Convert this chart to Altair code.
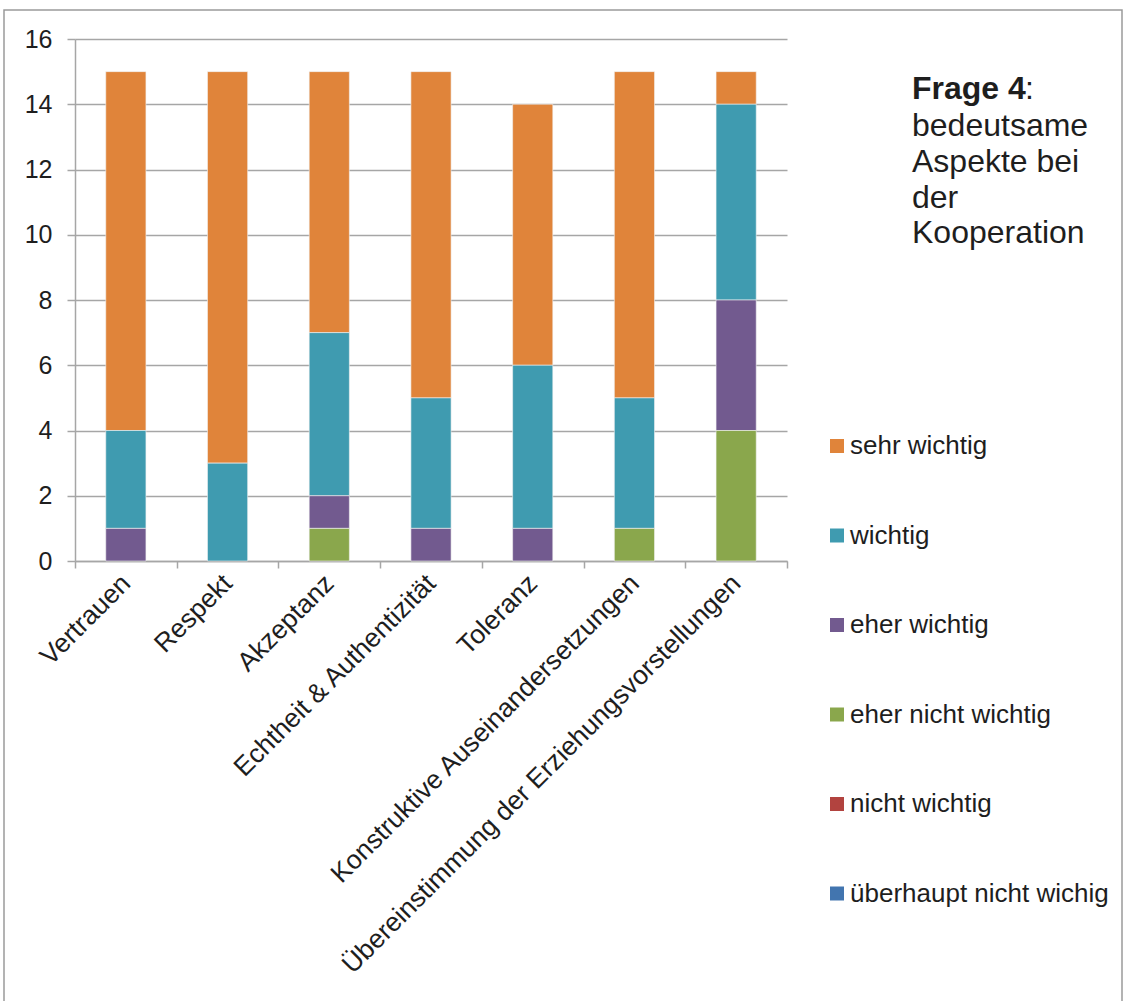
import altair as alt
import pandas as pd

categories = [
    "Vertrauen",
    "Respekt",
    "Akzeptanz",
    "Echtheit & Authentizität",
    "Toleranz",
    "Konstruktive Auseinandersetzungen",
    "Übereinstimmung der Erziehungsvorstellungen",
]
levels = [
    "sehr wichtig",
    "wichtig",
    "eher wichtig",
    "eher nicht wichtig",
    "nicht wichtig",
    "überhaupt nicht wichig",
]
colors = ["#E0843A", "#3F9BB0", "#725A8F", "#8AA74C", "#B2433F", "#4275AF"]

sehr_wichtig = [11, 12, 8, 10, 8, 10, 1]
wichtig = [3, 3, 5, 4, 5, 4, 6]
eher_wichtig = [1, 0, 1, 1, 1, 0, 4]
eher_nicht_wichtig = [0, 0, 1, 0, 0, 1, 4]
nicht_wichtig = [0, 0, 0, 0, 0, 0, 0]
ueberhaupt_nicht = [0, 0, 0, 0, 0, 0, 0]

series = [sehr_wichtig, wichtig, eher_wichtig, eher_nicht_wichtig, nicht_wichtig, ueberhaupt_nicht]
y_ticks = [0, 2, 4, 6, 8, 10, 12, 14, 16]

title_bold = "Frage 4"
title_rest = ["bedeutsame", "Aspekte bei", "der", "Kooperation"]

rows = []
for i, (lvl, vals) in enumerate(zip(levels, series)):
    for c, v in zip(categories, vals):
        rows.append({"Aspekt": c, "Bewertung": lvl, "Anzahl": v, "rank": len(levels) - i})
df = pd.DataFrame(rows)

FONT = "Liberation Sans"
GRID = "#A6A6A6"
TXT = "#1e1e1e"

bars = (
    alt.Chart(df)
    .transform_filter("datum.Anzahl > 0")
    .mark_bar(width=alt.RelativeBandSize(0.395), stroke="#f2f2f2", strokeWidth=0.6)
    .encode(
        x=alt.X(
            "Aspekt:N",
            sort=categories,
            scale=alt.Scale(paddingInner=0, paddingOuter=0),
            axis=alt.Axis(
                title=None,
                labelAngle=-45,
                labelAlign="right",
                labelBaseline="middle",
                labelFontSize=26.5,
                labelFont=FONT,
                labelColor=TXT,
                labelPadding=11,
                labelLimit=2000,
                tickBand="extent",
                tickSize=7,
                tickWidth=1.5,
                tickColor=GRID,
                domainColor=GRID,
                domainWidth=1.5,
                grid=False,
            ),
        ),
        y=alt.Y(
            "Anzahl:Q",
            stack="zero",
            scale=alt.Scale(domain=[0, 16], nice=False),
            axis=alt.Axis(
                title=None,
                values=y_ticks,
                grid=True,
                gridColor=GRID,
                gridWidth=1.5,
                tickColor=GRID,
                tickSize=8,
                tickWidth=1.5,
                domainColor=GRID,
                domainWidth=1.5,
                labelFontSize=25,
                labelFont=FONT,
                labelColor=TXT,
                labelPadding=15,
            ),
        ),
        color=alt.Color(
            "Bewertung:N",
            scale=alt.Scale(domain=levels, range=colors),
            legend=alt.Legend(
                title=None,
                orient="none",
                legendX=749,
                legendY=394,
                labelFontSize=26,
                labelFont=FONT,
                labelColor=TXT,
                symbolType="square",
                symbolSize=196,
                symbolStrokeWidth=0,
                rowPadding=63.5,
                labelOffset=0,
                padding=0,
                labelLimit=1000,
            ),
        ),
        order=alt.Order("rank:Q", sort="ascending"),
    )
)

one = pd.DataFrame({"a": [0]})

t_bold = alt.Chart(one).mark_text(
    align="left", baseline="alphabetic", font=FONT, fontSize=32, fontWeight="bold", color=TXT
).encode(x=alt.value(837), y=alt.value(60), text=alt.value(title_bold))

t_colon = alt.Chart(one).mark_text(
    align="left", baseline="alphabetic", font=FONT, fontSize=32, color=TXT
).encode(x=alt.value(950), y=alt.value(60), text=alt.value(":"))

t_rest = alt.Chart(one).mark_text(
    align="left", baseline="alphabetic", font=FONT, fontSize=32, color=TXT, lineHeight=35.8
).encode(x=alt.value(837), y=alt.value(97), text=alt.value(title_rest))

border = alt.Chart(one).mark_rect(filled=False, stroke="#9a9a9a", strokeWidth=1.5).encode(
    x=alt.value(-71), x2=alt.value(1047), y=alt.value(-29), y2=alt.value(1000)
)

chart = (
    alt.layer(border, bars, t_bold, t_colon, t_rest)
    .properties(
        width=712,
        height=522,
        autosize=alt.AutoSizeParams(type="none"),
        padding={"left": 75, "top": 39, "right": 340, "bottom": 440},
        background="white",
    )
    .configure_view(stroke=None)
)

chart.save("out.html", embed_options={"renderer": "svg", "actions": False})
